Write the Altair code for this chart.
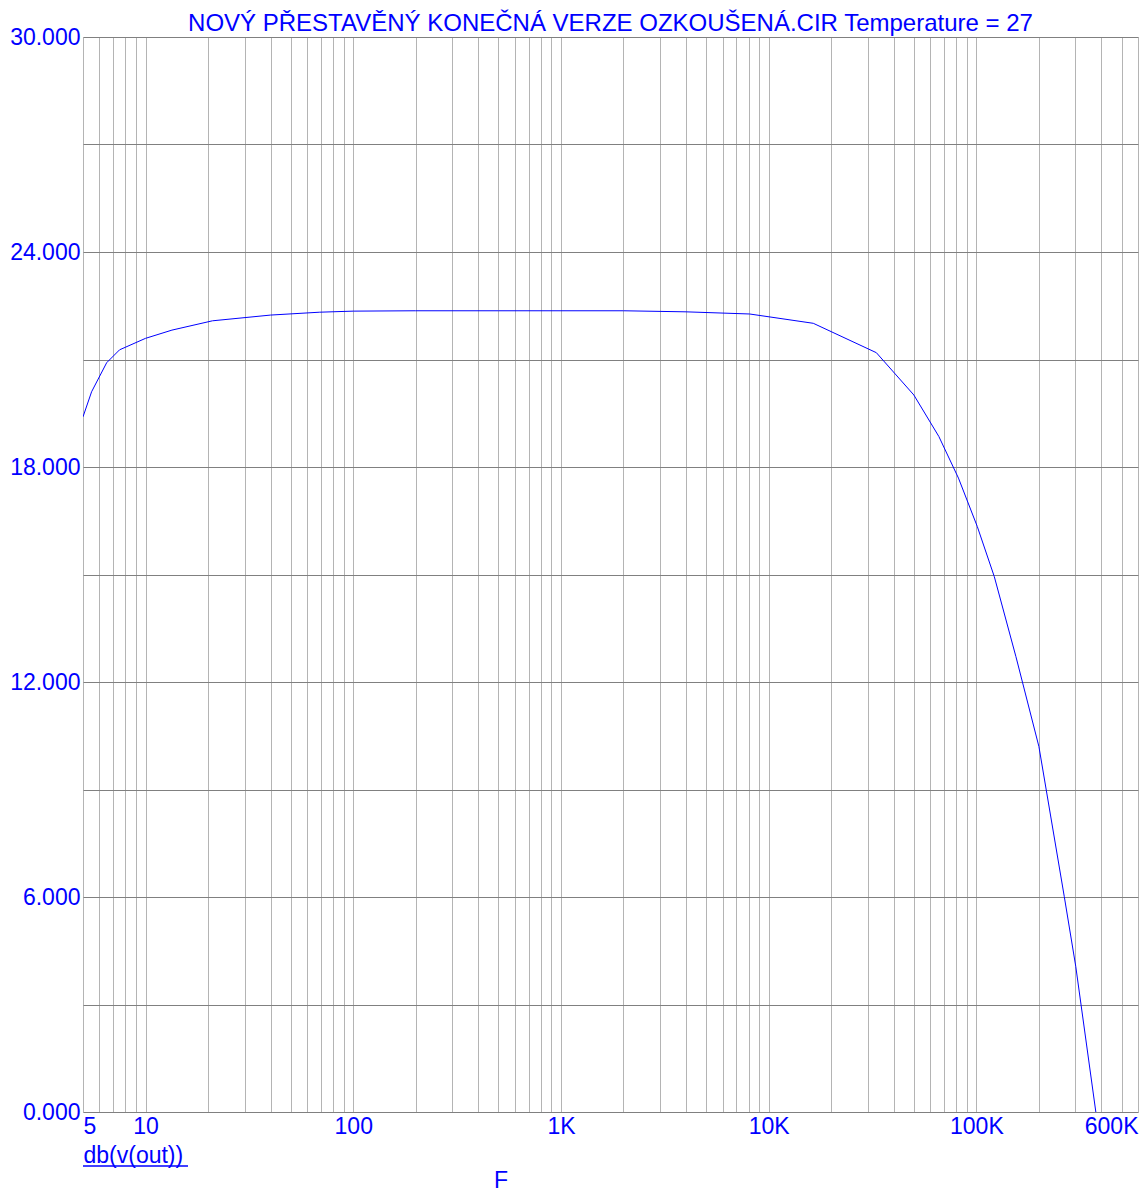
import altair as alt
import pandas as pd

# Frequency response (SPICE AC analysis)
freq = [5, 5.5, 6.5, 7.5, 10, 13.4, 21, 40, 69, 100, 200, 500, 1000, 2000, 4000,
        8100, 16400, 33000, 50000, 66000, 82000, 101000, 122000, 155000, 200000,
        265000, 301000, 376000]
db = [19.40, 20.10, 20.91, 21.27, 21.59, 21.82, 22.08, 22.24, 22.32, 22.35, 22.36,
      22.36, 22.36, 22.36, 22.33, 22.27, 22.01, 21.19, 20.01, 18.85, 17.69, 16.34,
      14.94, 12.71, 10.20, 6.01, 4.06, 0.0]

x_grid = [m * 10 ** e for e in range(0, 6) for m in range(1, 10)]
x_grid = [v for v in x_grid if 5 <= v <= 600000]
x_labels = {5: "5", 10: "10", 100: "100", 1000: "1K", 10000: "10K", 100000: "100K", 600000: "600K"}
y_grid = [0, 3, 6, 9, 12, 15, 18, 21, 24, 27, 30]

title_text = "NOVÝ PŘESTAVĚNÝ KONEČNÁ VERZE OZKOUŠENÁ.CIR Temperature = 27"
y_title = "db(v(out))"
x_title = "F"

df = pd.DataFrame({"f": freq, "db": db})

BLUE = "#0000ff"
FONT = "Liberation Sans"

label_expr = " : ".join(
    [f"datum.value == {k} ? '{v}'" for k, v in x_labels.items()]
) + " : ''"

line = alt.Chart(df).mark_line(color=BLUE, strokeWidth=1, clip=True).encode(
    x=alt.X("f:Q",
            scale=alt.Scale(type="log", domain=[5, 600000], nice=False),
            axis=alt.Axis(values=x_grid, labelExpr=label_expr, grid=True,
                          gridColor="#b4b4b4", gridWidth=1, ticks=False, domain=False,
                          labelFlush=True, labelOverlap=False, labelFont=FONT,
                          labelFontSize=23, labelColor=BLUE, labelPadding=3,
                          title=x_title, titleFont=FONT, titleFontSize=23,
                          titleFontWeight="normal", titleColor=BLUE,
                          titleX=417.5, titleY=75, titleAlign="center",
                          titleBaseline="alphabetic")),
    y=alt.Y("db:Q",
            scale=alt.Scale(domain=[0, 30], nice=False, zero=False),
            axis=alt.Axis(values=y_grid,
                          labelExpr="datum.value % 6 == 0 ? format(datum.value, '.3f') : ''",
                          grid=True, gridColor="#808080", gridWidth=1, ticks=False,
                          domain=False, labelOverlap=False, labelFont=FONT,
                          labelFontSize=23, labelColor=BLUE, labelPadding=3,
                          labelBaseline="middle",
                          title=y_title, titleFont=FONT, titleFontSize=23,
                          titleFontWeight="normal", titleColor=BLUE, titleAngle=0,
                          titleX=0, titleY=1125, titleAlign="left",
                          titleBaseline="alphabetic")),
)

underline = alt.Chart(pd.DataFrame({"a": [0]})).mark_rule(color=BLUE, strokeWidth=1.5).encode(
    x=alt.value(0), x2=alt.value(105), y=alt.value(1129)
)

title = alt.Chart(pd.DataFrame({"t": [title_text]})).mark_text(
    font=FONT, fontSize=24, color=BLUE, align="center", baseline="alphabetic"
).encode(x=alt.value(527.5), y=alt.value(-6), text="t:N")

chart = alt.layer(line, underline, title).properties(
    width=1055, height=1075,
    autosize=alt.AutoSizeParams(type="none"),
    padding={"left": 83, "top": 37, "right": 8, "bottom": 79},
).configure_view(stroke=None).configure(background="white")

chart.save("out.html", embed_options={"renderer": "svg", "actions": False})
